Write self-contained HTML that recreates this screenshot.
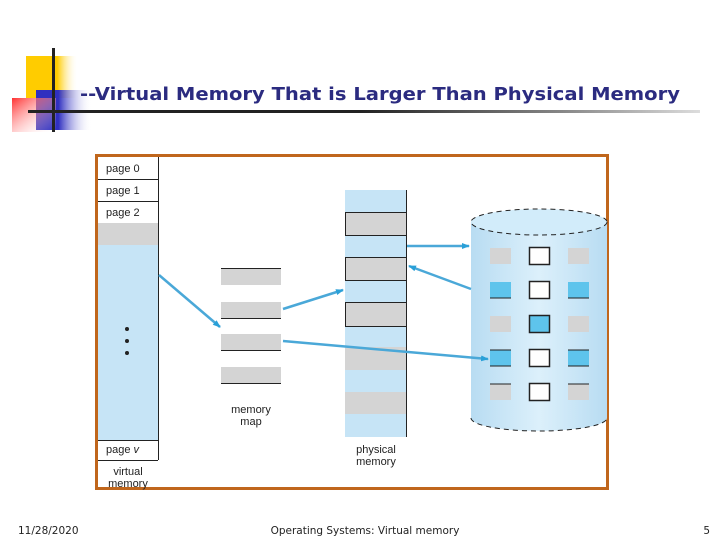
<!DOCTYPE html>
<html><head><meta charset="utf-8"><style>
html,body{margin:0;padding:0;background:#fff;}
svg{display:block;}
</style></head><body>
<svg width="720" height="540" viewBox="0 0 720 540" xmlns="http://www.w3.org/2000/svg" font-family="Liberation Sans, sans-serif">
<defs>
<linearGradient id="ln" x1="0" x2="1"><stop offset="0" stop-color="#222"/><stop offset="0.6" stop-color="#888"/><stop offset="1" stop-color="#ddd"/></linearGradient>
<linearGradient id="yel" x1="0" x2="1"><stop offset="0.6" stop-color="#ffcc00"/><stop offset="1" stop-color="#fff" stop-opacity="0"/></linearGradient>
<linearGradient id="blu" x1="0" x2="1"><stop offset="0.4" stop-color="#3030c0"/><stop offset="1" stop-color="#fff" stop-opacity="0"/></linearGradient>
<linearGradient id="red" x1="0" x2="1" y1="0" y2="1"><stop offset="0" stop-color="#ff3030"/><stop offset="1" stop-color="#fff" stop-opacity="0"/></linearGradient>
<linearGradient id="cyl" x1="0" x2="1"><stop offset="0" stop-color="#b8dcf2"/><stop offset="0.5" stop-color="#dcf0fb"/><stop offset="1" stop-color="#b8dcf2"/></linearGradient>
<marker id="ah" markerWidth="8" markerHeight="6" refX="7" refY="3" orient="auto" markerUnits="userSpaceOnUse"><path d="M0,0 L8,3 L0,6 z" fill="#2aa0d8"/></marker>
</defs>
<rect x="26" y="56" width="52" height="42" fill="url(#yel)"/>
<rect x="36" y="90" width="56" height="40" fill="url(#blu)"/>
<rect x="12" y="98" width="44" height="34" fill="url(#red)"/>
<rect x="52" y="48" width="3" height="84" fill="#222"/>
<rect x="28" y="110" width="332" height="3" fill="#222"/>
<rect x="360" y="110" width="340" height="3" fill="url(#ln)"/>
<text x="80" y="100" font-family="DejaVu Sans, sans-serif" font-size="18" font-weight="bold" fill="#2b2b80" textLength="600" lengthAdjust="spacingAndGlyphs">--Virtual Memory That is Larger Than Physical Memory</text>

<rect x="96.5" y="155.5" width="511" height="333" fill="#fff" stroke="#c0661c" stroke-width="3"/>
<rect x="98" y="223" width="60" height="22" fill="#d4d4d4"/>
<rect x="98" y="245" width="60" height="195" fill="#c6e4f6"/>
<g stroke="#222" stroke-width="1" fill="none">
<line x1="158.5" y1="157" x2="158.5" y2="460"/>
<line x1="98" y1="179.5" x2="158" y2="179.5"/>
<line x1="98" y1="201.5" x2="158" y2="201.5"/>
<line x1="98" y1="440.5" x2="158" y2="440.5"/>
<line x1="98" y1="460.5" x2="158" y2="460.5"/>
</g>
<g font-size="11" fill="#222">
<text x="106" y="172">page 0</text><text x="106" y="194">page 1</text><text x="106" y="216">page 2</text>
<text x="106" y="453">page <tspan font-style="italic">v</tspan></text>
<text x="128" y="475" text-anchor="middle">virtual</text><text x="128" y="487" text-anchor="middle">memory</text>
<text x="251" y="413" text-anchor="middle">memory</text><text x="251" y="425" text-anchor="middle">map</text>
<text x="376" y="453" text-anchor="middle">physical</text><text x="376" y="465" text-anchor="middle">memory</text>
</g>
<circle cx="127" cy="329" r="2" fill="#222"/><circle cx="127" cy="341" r="2" fill="#222"/><circle cx="127" cy="353" r="2" fill="#222"/>
<g fill="#d4d4d4" stroke="#222">
<rect x="221" y="268" width="60" height="17" stroke="none"/><line x1="221" y1="268.5" x2="281" y2="268.5"/>
<rect x="221" y="302" width="60" height="17" stroke="none"/><line x1="221" y1="318.5" x2="281" y2="318.5"/>
<rect x="221" y="334" width="60" height="17" stroke="none"/><line x1="221" y1="350.5" x2="281" y2="350.5"/>
<rect x="221" y="367" width="60" height="17" stroke="none"/><line x1="221" y1="383.5" x2="281" y2="383.5"/>
</g>
<rect x="345" y="190" width="61" height="247" fill="#c6e4f6"/>
<g fill="#d4d4d4" stroke="#222" stroke-width="1">
<rect x="345.5" y="212.5" width="61" height="23"/>
<rect x="345.5" y="257.5" width="61" height="23"/>
<rect x="345.5" y="302.5" width="61" height="24"/>
<rect x="345" y="347" width="61" height="23" stroke="none"/>
<rect x="345" y="392" width="61" height="22" stroke="none"/>
</g>
<line x1="406.5" y1="190" x2="406.5" y2="437" stroke="#222"/>
<path d="M471,222 L471,418 A68,13 0 0 0 607,418 L607,222 Z" fill="url(#cyl)"/>
<ellipse cx="539" cy="222" rx="68" ry="13" fill="#d2ecfa" stroke="#222" stroke-dasharray="5,4"/>
<path d="M471,418 A68,13 0 0 0 607,418" fill="none" stroke="#222" stroke-dasharray="5,4"/>
<g stroke="#222">
<rect x="490" y="248" width="21" height="16" fill="#d4d4d4" stroke="none"/>
<rect x="568" y="248" width="21" height="16" fill="#d4d4d4" stroke="none"/>
<rect x="529.5" y="247.5" width="20" height="17" fill="#fff" stroke-width="1.5"/>
<rect x="490" y="282" width="21" height="16" fill="#5ec4ec" stroke="none"/><rect x="568" y="282" width="21" height="16" fill="#5ec4ec" stroke="none"/>
<line x1="490" y1="298" x2="511" y2="298"/><line x1="568" y1="298" x2="589" y2="298"/>
<rect x="529.5" y="281.5" width="20" height="17" fill="#fff" stroke-width="1.5"/>
<rect x="490" y="316" width="21" height="16" fill="#d4d4d4" stroke="none"/><rect x="568" y="316" width="21" height="16" fill="#d4d4d4" stroke="none"/>
<rect x="529.5" y="315.5" width="20" height="17" fill="#5ec4ec" stroke-width="1.5"/>
<rect x="490" y="350" width="21" height="16" fill="#5ec4ec" stroke="none"/><rect x="568" y="350" width="21" height="16" fill="#5ec4ec" stroke="none"/>
<line x1="490" y1="350" x2="511" y2="350"/><line x1="568" y1="350" x2="589" y2="350"/>
<line x1="490" y1="366" x2="511" y2="366"/><line x1="568" y1="366" x2="589" y2="366"/>
<rect x="529.5" y="349.5" width="20" height="17" fill="#fff" stroke-width="1.5"/>
<rect x="490" y="384" width="21" height="16" fill="#d4d4d4" stroke="none"/><rect x="568" y="384" width="21" height="16" fill="#d4d4d4" stroke="none"/>
<line x1="490" y1="384" x2="511" y2="384"/><line x1="568" y1="384" x2="589" y2="384"/>
<rect x="529.5" y="383.5" width="20" height="17" fill="#fff" stroke-width="1.5"/>
</g>
<g stroke="#4aa8d8" stroke-width="2.5" fill="none" marker-end="url(#ah)">
<line x1="159" y1="275" x2="220" y2="327"/>
<line x1="283" y1="309" x2="343" y2="290"/>
<line x1="407" y1="246" x2="469" y2="246"/>
<line x1="471" y1="289" x2="409" y2="266"/>
<line x1="283" y1="341" x2="488" y2="359"/>
</g>
<g font-family="DejaVu Sans, sans-serif" font-size="10.5" fill="#222">
<text x="18" y="534">11/28/2020</text>
<text x="365" y="534" text-anchor="middle">Operating Systems: Virtual memory</text>
<text x="710" y="534" text-anchor="end">5</text>
</g>
</svg>
</body></html>
